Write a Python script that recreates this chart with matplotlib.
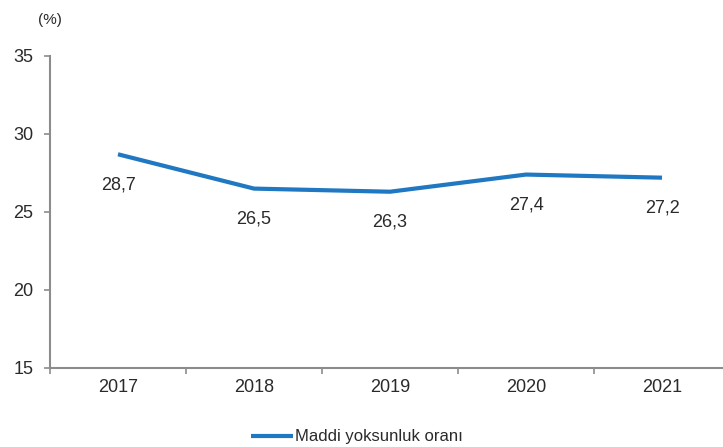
import matplotlib
matplotlib.use("Agg")
import matplotlib.pyplot as plt

years = ["2017", "2018", "2019", "2020", "2021"]
values = [28.7, 26.5, 26.3, 27.4, 27.2]
value_labels = ["28,7", "26,5", "26,3", "27,4", "27,2"]
yticks = [15, 20, 25, 30, 35]
series_name = "Maddi yoksunluk oranı"

plt.rcParams['font.family'] = ['Liberation Sans', 'DejaVu Sans']

fig = plt.figure(figsize=(7.23, 4.47), dpi=100)
ax = fig.add_axes([50/723, 1-368/447, 680/723, 312/447])

x = list(range(len(years)))
line, = ax.plot(x, values, color='#1f78c1', lw=3, solid_capstyle='butt', label=series_name)

for xi, v, lab in zip(x, values, value_labels):
    ax.annotate(lab, (xi, v), xytext=(0, -22), textcoords='offset points',
                ha='center', va='center', fontsize=13, color='#2a2a2a')

ax.set_xlim(-0.5, len(years) - 0.5)
ax.set_ylim(15, 35)
ax.set_yticks(yticks)
ax.set_yticklabels([str(t) for t in yticks])
ax.set_xticks(x)
ax.set_xticklabels(years)
ax.set_xticks([i - 0.5 for i in range(len(years) + 1)], minor=True)

for s in ['top', 'right']:
    ax.spines[s].set_visible(False)
for s in ['left', 'bottom']:
    ax.spines[s].set_color('#8c8c8c')
    ax.spines[s].set_linewidth(1.5)

ax.tick_params(axis='y', direction='out', length=4, width=1.2, color='#8c8c8c',
               labelsize=13, labelcolor='#2a2a2a', pad=8)
ax.tick_params(axis='x', which='major', length=0, labelsize=13, labelcolor='#2a2a2a', pad=8)
ax.tick_params(axis='x', which='minor', direction='out', length=4, width=1.2, color='#8c8c8c')

fig.text(50/723, 1-20/447, "(%)", ha='center', va='center', fontsize=11, color='#2a2a2a')

fig.legend(handles=[line], loc='center', bbox_to_anchor=(357/723, 1-437/447),
           frameon=False, fontsize=12, handlelength=2.5, handletextpad=0.1,
           labelcolor='#2a2a2a')

fig.savefig("out.png", dpi=100)
